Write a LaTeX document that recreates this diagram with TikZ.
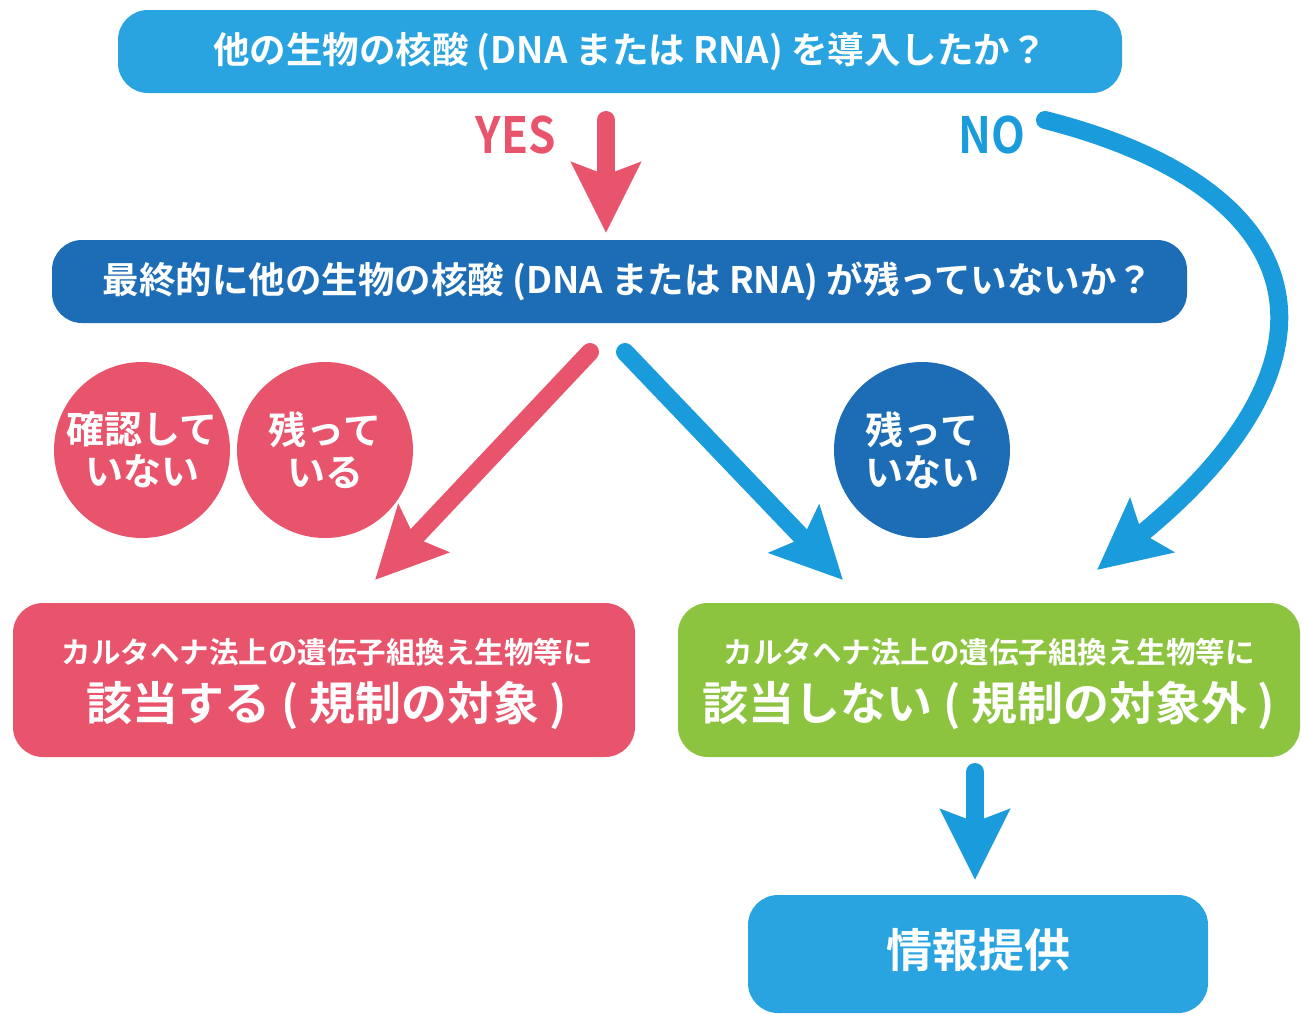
\documentclass[tikz,border=0pt]{standalone}
\usepackage{fontspec}
\setmainfont{Noto Sans CJK JP}[BoldFont={Noto Sans CJK JP Bold}]
\usetikzlibrary{arrows.meta}
\definecolor{lblue}{HTML}{2AA4E0}
\definecolor{dblue}{HTML}{1C6DB5}
\definecolor{pinkred}{HTML}{E9546D}
\definecolor{leaf}{HTML}{8CC43F}
\definecolor{ablue}{HTML}{1A9CDC}
\tikzset{
  qbox/.style={rounded corners=30pt, text=white, font=\bfseries, align=center, inner sep=0pt},
  wtext/.style={text=white, font=\bfseries, align=center, inner sep=0pt},
  circ/.style={circle, minimum size=176pt, inner sep=0pt, text=white, align=center,
    font=\bfseries\fontsize{38}{42}\selectfont},
  bigarr/.style={line width=18pt, line cap=round, -{Stealth[length=70pt,width=68pt,inset=12pt]}},
  lbl/.style={font=\bfseries\fontsize{50}{50}\selectfont, inner sep=0pt, xscale=0.88},
}
\begin{document}
\begin{tikzpicture}[x=1pt,y=-1pt]
\useasboundingbox (0,0) rectangle (1303,1013);
% boxes
\node[qbox, fill=lblue, minimum width=1004pt, minimum height=83pt] (q1) at (620,51.5) {};
\node[wtext] (q1t) at (630,51.5)
  {\fontsize{36.5}{40}\selectfont 他の生物の核酸 (DNA または RNA) を導入したか？};
\node[qbox, fill=dblue, minimum width=1135pt, minimum height=83pt] (q2) at (619.5,281.5) {};
\node[wtext] (q2t) at (628,281.5)
  {\fontsize{36.5}{40}\selectfont 最終的に他の生物の核酸 (DNA または RNA) が残っていないか？};
\node[qbox, fill=pinkred, minimum width=622pt, minimum height=154pt] (r1) at (324,680) {};
\node[wtext] (r1t) at (327,684)
  {{\fontsize{29.5}{30}\selectfont カルタヘナ法上の遺伝子組換え生物等に}\\[14pt]{\fontsize{46}{48}\selectfont 該当する ( 規制の対象 )}};
\node[qbox, fill=leaf, minimum width=622pt, minimum height=154pt] (r2) at (989,680) {};
\node[wtext] (r2t) at (989,684)
  {{\fontsize{29.5}{30}\selectfont カルタヘナ法上の遺伝子組換え生物等に}\\[14pt]{\fontsize{46}{48}\selectfont 該当しない ( 規制の対象外 )}};
\node[qbox, fill=lblue, minimum width=460pt, minimum height=118pt] (info) at (978,954) {};
\node[wtext] (infot) at (978,950) {\fontsize{46}{48}\selectfont 情報提供};
% circles
\node[circ, fill=pinkred] (c1) at (142,450) {確認して\\いない};
\node[circ, fill=pinkred] (c2) at (325,450) {残って\\いる};
\node[circ, fill=dblue] (c3) at (922,450) {残って\\いない};
% labels
\node[lbl, text=pinkred] (yes) at (516,135) {YES};
\node[lbl, text=ablue] (no) at (992,135) {NO};
% arrow end points
\coordinate (yesS) at (606,120);
\coordinate (yesE) at (606,233);
\coordinate (noS) at (1045,120);
\coordinate (noE) at (1097,570);
\coordinate (redS) at (590,352);
\coordinate (redE) at (375,580);
\coordinate (bluS) at (625,352);
\coordinate (bluE) at (843,580);
\coordinate (infS) at (975,772);
\coordinate (infE) at (975,880);
% arrows
\draw[bigarr, draw=pinkred] (yesS) -- (yesE);
\draw[bigarr, draw=ablue] (noS) .. controls (1320,190) and (1355,360) .. (noE);
\draw[bigarr, draw=pinkred] (redS) -- (redE);
\draw[bigarr, draw=ablue] (bluS) -- (bluE);
\draw[bigarr, draw=ablue] (infS) -- (infE);
\end{tikzpicture}
\end{document}
